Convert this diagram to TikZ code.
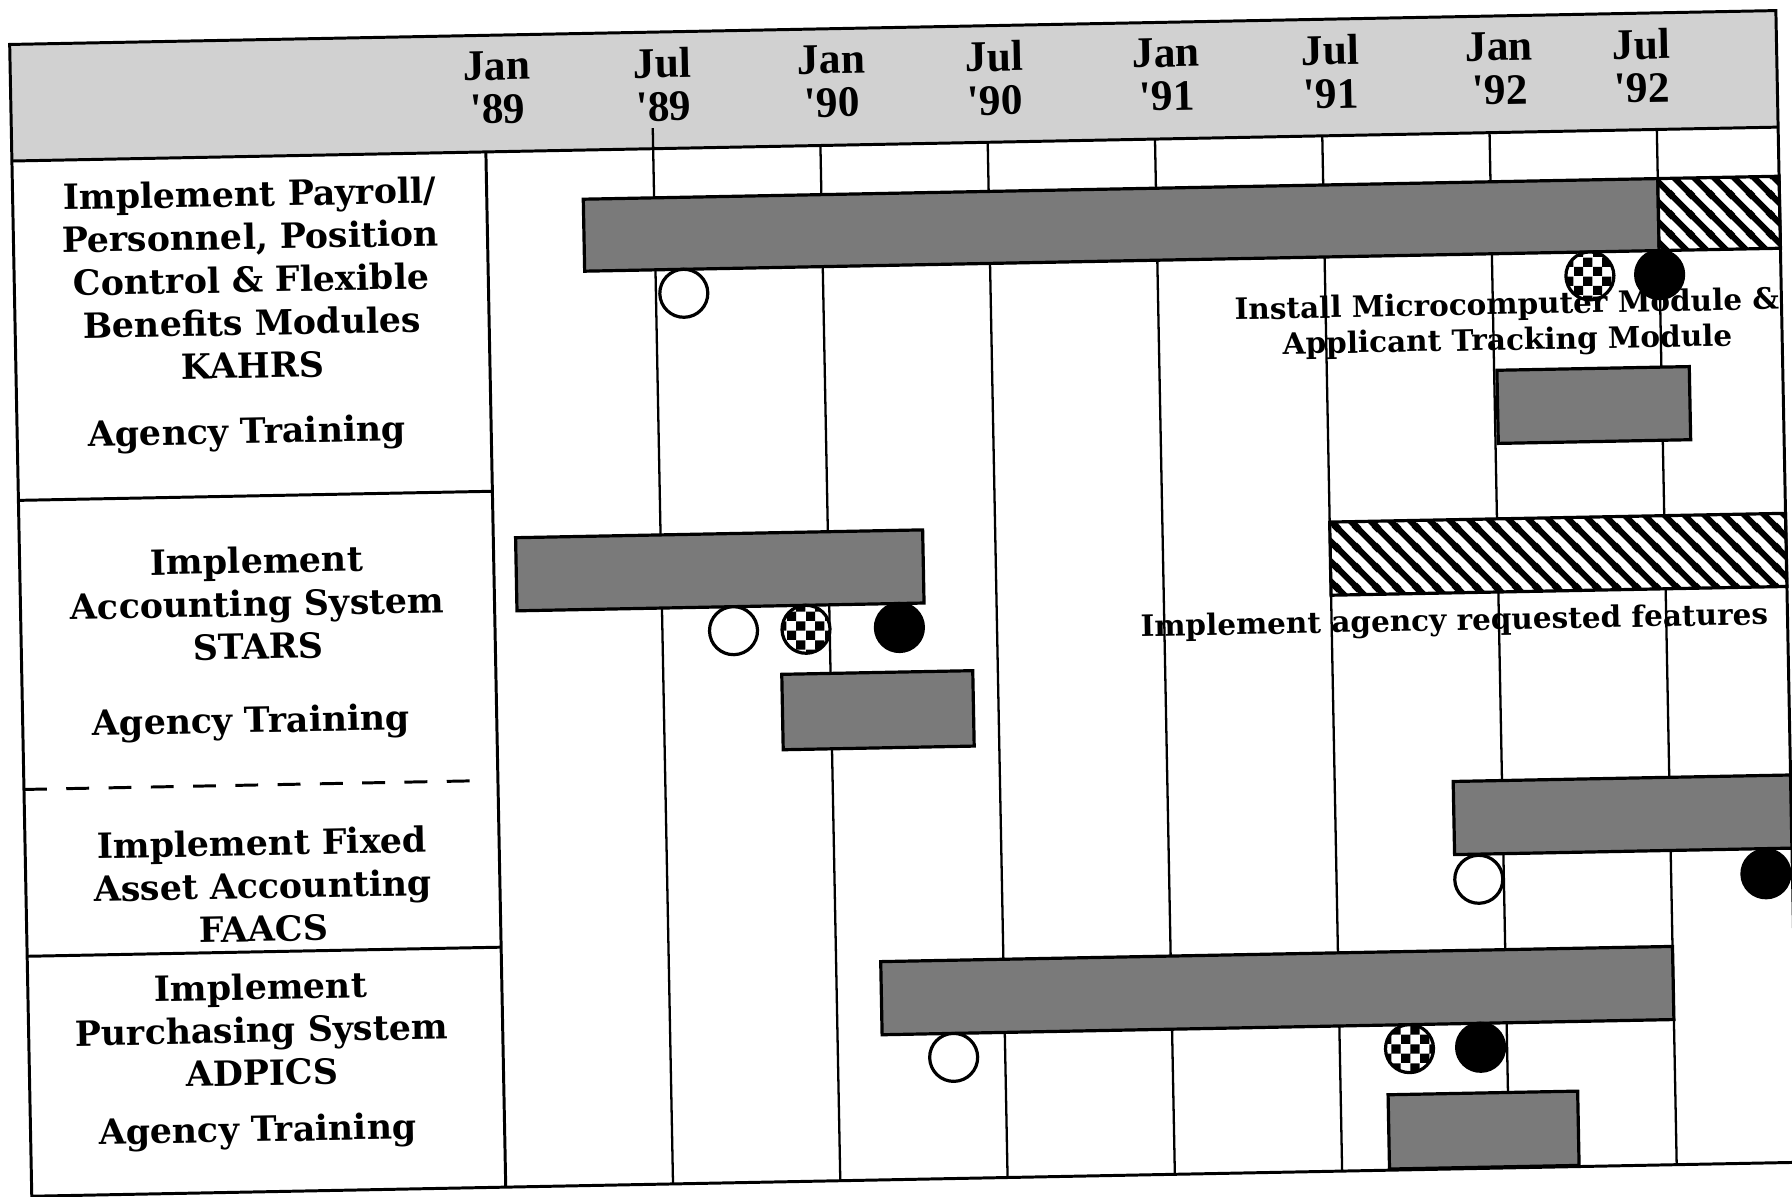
\documentclass[tikz,border=0pt]{standalone}
\usepackage{fontspec}
\setmainfont{DejaVu Serif}
\newfontfamily\hdrfont{Liberation Serif}
\usepackage{tikz}
\usetikzlibrary{patterns}
\pgfdeclarepatternformonly{bigcheck}{\pgfqpoint{0pt}{0pt}}{\pgfqpoint{8.4pt}{8.4pt}}{\pgfqpoint{8.4pt}{8.4pt}}{%
  \pgfpathrectangle{\pgfqpoint{0pt}{0pt}}{\pgfqpoint{4.2pt}{4.2pt}}%
  \pgfpathrectangle{\pgfqpoint{4.2pt}{4.2pt}}{\pgfqpoint{4.2pt}{4.2pt}}%
  \pgfusepath{fill}}
\pgfdeclarepatternformonly{bigstripes}{\pgfqpoint{0pt}{0pt}}{\pgfqpoint{8.6pt}{8.6pt}}{\pgfqpoint{8.6pt}{8.6pt}}{%
  \pgfsetlinewidth{2.7pt}%
  \pgfpathmoveto{\pgfqpoint{-3pt}{3pt}}\pgfpathlineto{\pgfqpoint{3pt}{-3pt}}%
  \pgfpathmoveto{\pgfqpoint{-1pt}{9.6pt}}\pgfpathlineto{\pgfqpoint{9.6pt}{-1pt}}%
  \pgfpathmoveto{\pgfqpoint{5.6pt}{11.6pt}}\pgfpathlineto{\pgfqpoint{11.6pt}{5.6pt}}%
  \pgfusepath{stroke}}

\begin{document}
\begin{tikzpicture}[x=0.5pt,y=-0.5pt,
  hdr/.style={font=\hdrfont\bfseries\fontsize{19}{19}\selectfont,align=center,inner sep=0pt},
  lab/.style={font=\bfseries\fontsize{15.2}{18.8}\selectfont,align=center,inner sep=0pt},
  note/.style={font=\bfseries\fontsize{12.9}{15.5}\selectfont,align=center,inner sep=0pt},
  frame/.style={line width=1.3pt},
  grid/.style={line width=1pt},
  bar/.style={draw,line width=1.4pt,fill=black!52},
  hbar/.style={draw,line width=1.4pt,preaction={fill=white},pattern=bigstripes},
  ms/.style={circle,draw,line width=1.4pt,minimum size=21pt,inner sep=0pt},
  msopen/.style={ms,fill=white},
  mschk/.style={ms,preaction={fill=white},pattern=bigcheck},
  msdone/.style={ms,fill=black},
]
  \useasboundingbox (0,0) rectangle (1568,1047);
  \clip (0,0) rectangle (1568,1047);
  \begin{scope}[rotate around={1.1:(790,540)},shift={(433,0)},x=12.2pt,transform shape]
  % Header and frame
  \fill[black!18] (-17.0,24) rectangle (46.35,126);
  \draw[frame] (-17.0,24) rectangle (46.35,1032);
  \draw[frame] (-17.0,126) -- (46.35,126);
  \draw[frame] (-17.0,423) -- (0,423);
  \draw[frame,dash pattern=on 10pt off 8.5pt] (-17.0,676) -- (-0.7,676);
  \draw[frame] (-17.0,822) -- (0,822);
  \draw[frame] (0,126) -- (0,1032);
  \foreach \m in {6,12,...,42}
    \draw[grid] (\m,126) -- (\m,1032);
  \draw[grid] (6,108) -- (6,126);
  \foreach \p/\mon/\yr [count=\i] in {0.45/Jan/89,6.4/Jul/89,12.45/Jan/90,18.3/Jul/90,
      24.45/Jan/91,30.35/Jul/91,36.4/Jan/92,41.5/Jul/92}
    \node[hdr] (hd\i) at (\p,70) {\mon\\'\yr};

  % Row 1 KAHRS
  \node[lab] (kahrs) at (-8.5,233.5) {Implement Payroll/\\Personnel, Position\\Control \& Flexible\\Benefits Modules\\KAHRS};
  \node[lab] (kahrs-tr) at (-8.75,369) {Agency Training};
  \draw[bar] (3.46,169) rectangle (42,232);
  \draw[hbar] (42,169) rectangle (46.35,232);
  \node[msopen] (kahrs-start) at (7,253) {};
  \node[mschk] (kahrs-test) at (39.5,253) {};
  \node[msdone] (kahrs-done) at (42,253) {};
  \node[note] (kahrs-note) at (36.5,294) {Install Microcomputer Module \&\\Applicant Tracking Module};
  \draw[bar] (36.1,334) rectangle (43,398);

  % Row 2 STARS
  \node[lab] (stars) at (-8.5,517) {Implement\\Accounting System\\STARS};
  \node[lab] (stars-tr) at (-8.8,622) {Agency Training};
  \draw[bar] (0.8,464) rectangle (15.4,528);
  \node[msopen] (stars-start) at (8.55,549) {};
  \node[mschk] (stars-test) at (11.15,549) {};
  \node[msdone] (stars-done) at (14.5,549) {};
  \draw[bar] (10.25,588) rectangle (17.1,654);
  \draw[hbar] (30,464) rectangle (46.35,528);
  \node[note] (stars-note) at (34.4,554) {Implement agency requested features};

  % Row 3 FAACS
  \node[lab] (faacs) at (-8.5,764) {Implement Fixed\\Asset Accounting\\FAACS};
  \draw[bar] (34.25,693) rectangle (46.35,757);
  \node[msopen] (faacs-start) at (35.1,779) {};
  \node[msdone] (faacs-done) at (45.4,779) {};

  % Row 4 ADPICS
  \node[lab] (adpics) at (-8.65,890) {Implement\\Purchasing System\\ADPICS};
  \node[lab] (adpics-tr) at (-8.85,980) {Agency Training};
  \draw[bar] (13.6,841) rectangle (42,905);
  \node[msopen] (adpics-start) at (16.15,926) {};
  \node[mschk] (adpics-test) at (32.5,926) {};
  \node[msdone] (adpics-done) at (35.05,926) {};
  \draw[bar] (31.7,966) rectangle (38.5,1031);
  \end{scope}
\end{tikzpicture}
\end{document}
